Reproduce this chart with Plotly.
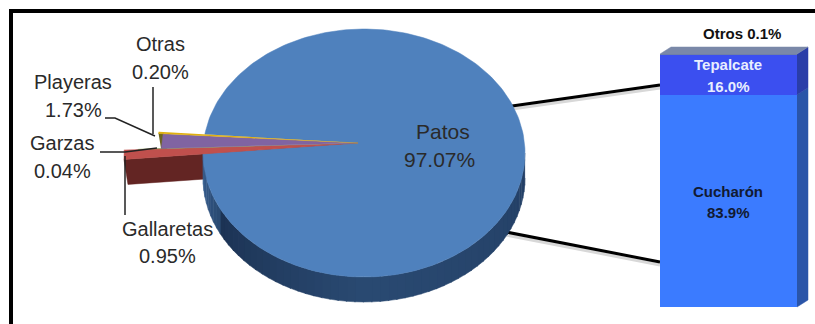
import numpy as np
import plotly.graph_objects as go

W, H = 815, 324
# data
pie_labels = ["Patos", "Gallaretas", "Garzas", "Playeras", "Otras"]
pie_values = [97.07, 0.95, 0.04, 1.73, 0.20]
pie_text = ["97.07%", "0.95%", "0.04%", "1.73%", "0.20%"]
bar_labels = ["Cucharón", "Tepalcate", "Otros"]
bar_values = [83.9, 16.0, 0.1]
bar_text = ["83.9%", "16.0%", "0.1%"]

# style
CX, CY, RX, RY = 364, 153, 161, 124
AX, AY = 358, 143
DEPTH = 25
GAP_START = 179.6      # rim angle (deg) where the small slices begin
GAP_COMPRESS = 0.86
slice_colors = {"Gallaretas": "#C0504D", "Garzas": "#8A9A50", "Playeras": "#8064A2", "Otras": "#E0B010"}
slice_pull = {"Gallaretas": 1.51, "Garzas": 1.42, "Playeras": 1.27, "Otras": 1.3}


def rim(theta):
    t = np.radians(theta)
    return CX + RX * np.cos(t), CY + RY * np.sin(t)


def fill(xs, ys, color, line=None):
    return go.Scatter(x=list(xs), y=list(ys), mode="lines", fill="toself", fillcolor=color,
                      line=dict(color=line or color, width=0.5), hoverinfo="skip", showlegend=False)


def seg(xs, ys, color="#000000", width=1.5):
    return go.Scatter(x=xs, y=ys, mode="lines", line=dict(color=color, width=width),
                      hoverinfo="skip", showlegend=False)


traces = []
total = sum(pie_values)
small = pie_values[1:]
spans = [v / total * 360 * GAP_COMPRESS for v in small]
gap_end = GAP_START + sum(spans)
edges = np.concatenate([[GAP_START], GAP_START + np.cumsum(spans)])


def outer(theta, k):
    x, y = rim(theta)
    return AX + k * (x - AX), AY + k * (y - AY)


# connectors (shadow + line)
for x, y in (([512, 660], [106, 85]), ([506, 660], [232, 262])):
    traces.append(seg(x, [v + 3 for v in y], "#d8d8d8", 3))
    traces.append(seg(x, y, "#000000", 3))

# exploded slice sides
gx, gy = outer(edges[0], slice_pull["Gallaretas"])
traces.append(fill([AX, gx, gx + 4, AX + 4], [AY, gy, gy + DEPTH, AY + DEPTH], "#632523"))
px, py = outer(edges[3], slice_pull["Otras"])
px2, py2 = outer(edges[2], slice_pull["Playeras"])
traces.append(fill([px, px + 5, px2 + 6, px2], [py, py, py2 + 2, py2 + 2], "#6B6420"))

# main pie side with shading
th = np.linspace(0, 180, 61)
shade_l, shade_r = np.array([0x1C, 0x33, 0x54]), np.array([0x24, 0x40, 0x66])
mid = np.array([0x2A, 0x4A, 0x72])
for a, b in zip(th[:-1], th[1:]):
    u = (a + b) / 360
    if u > 0.85:
        c = np.array([0x3A, 0x62, 0x94]) + (mid - np.array([0x3A, 0x62, 0x94])) * ((1 - u) / 0.15)
    elif u < 0.5:
        c = shade_r + (mid - shade_r) * (u / 0.5)
    else:
        c = mid + (shade_l - mid) * ((u - 0.5) / 0.35)
    xa, ya = rim(a)
    xb, yb = rim(b + 0.4)
    col = "#%02x%02x%02x" % tuple(int(v) for v in c)
    traces.append(fill([xa, xb, xb, xa], [ya, yb, yb + DEPTH, ya + DEPTH], col))

# main pie top
t_main = np.linspace(gap_end, GAP_START + 360, 240)
mx, my = rim(t_main)
traces.append(fill(np.r_[AX, mx], np.r_[AY, my], "#4F81BD"))

# slice tops
for name, a, b in zip(pie_labels[1:], edges[:-1], edges[1:]):
    k = slice_pull[name]
    x1, y1 = outer(a, k)
    x2, y2 = outer(b, k)
    traces.append(fill([AX, x1, x2], [AY, y1, y2], slice_colors[name]))

# leader lines
traces.append(seg([153, 153], [87, 134], "#222222", 1.5))
traces.append(seg([105, 115, 155], [118, 118, 136], "#222222", 1.5))
traces.append(seg([100, 125, 157], [152, 152, 148], "#222222", 1.5))
traces.append(seg([125, 125], [156, 215], "#222222", 1.5))

# stacked bar (true scale on its own axes)
BL, BR, BT, BB = 660, 797, 54, 307
for name, v, c in zip(bar_labels, bar_values, ["#3B7BFF", "#3B4FF0", "#6F7FA8"]):
    traces.append(go.Bar(x=[0], y=[v], name=name, width=[1], marker=dict(color=c, line=dict(width=0)),
                         xaxis="x2", yaxis="y2", hoverinfo="skip", showlegend=False))


def y_of(p):
    return BB - (BB - BT) * p / sum(bar_values)


SX, SY = 11, -7
sum0 = bar_values[0]
traces.append(fill([BR, BR + SX, BR + SX, BR], [y_of(0), y_of(0) + SY, y_of(sum0) + SY, y_of(sum0)], "#2A55A8"))
traces.append(fill([BR, BR + SX, BR + SX, BR], [y_of(sum0), y_of(sum0) + SY, y_of(100) + SY, y_of(100)], "#2A3DA8"))
traces.append(fill([BL, BL + SX, BR + SX, BR], [y_of(100), y_of(100) + SY, y_of(100) + SY, y_of(100)], "#7A88A8"))

fig = go.Figure(traces)

FONT = "Liberation Sans"


def label(x, y, text, size=20, color="#2a2a2a", bold=False):
    return dict(x=x, y=y, xref="x", yref="y", text=f"<b>{text}</b>" if bold else text, showarrow=False,
                font=dict(family=FONT, size=size, color=color), xanchor="center", yanchor="middle")


ann = [
    label(443, 131, pie_labels[0], 21), label(439, 159, pie_text[0], 21),
    label(160, 44, pie_labels[4]), label(160, 72, pie_text[4]),
    label(73, 82, pie_labels[3]), label(73, 110, pie_text[3]),
    label(62, 143, pie_labels[2]), label(62, 171, pie_text[2]),
    label(167, 229, pie_labels[1]), label(167, 256, pie_text[1]),
    label(742, 33, f"{bar_labels[2]} {bar_text[2]}", 15, "#111111", True),
    label(728, 64, bar_labels[1], 15, "#E8EEFF", True), label(728, 86, bar_text[1], 15, "#E8EEFF", True),
    label(728, 191, bar_labels[0], 15, "#111A33", True), label(728, 212, bar_text[0], 15, "#111A33", True),
]

fig.update_layout(
    width=W, height=H, margin=dict(l=0, r=0, t=0, b=0), paper_bgcolor="#ffffff", plot_bgcolor="rgba(0,0,0,0)",
    barmode="stack", bargap=0, showlegend=False, annotations=ann,
    xaxis=dict(range=[0, W], visible=False, fixedrange=True, domain=[0, 1]),
    yaxis=dict(range=[H, 0], visible=False, fixedrange=True, domain=[0, 1]),
    xaxis2=dict(range=[-0.5, 0.5], visible=False, fixedrange=True, domain=[BL / W, BR / W], anchor="y2"),
    yaxis2=dict(range=[0, sum(bar_values)], visible=False, fixedrange=True,
                domain=[(H - BB) / H, (H - BT) / H], anchor="x2"),
    shapes=[
        dict(type="line", xref="x", yref="y", x0=9, x1=W, y0=11, y1=11, line=dict(color="#000", width=4)),
        dict(type="line", xref="x", yref="y", x0=11, x1=11, y0=9, y1=H, line=dict(color="#000", width=4)),
    ],
)
fig.write_html("out.html", config=dict(displayModeBar=False),
               post_script="document.body.style.margin='0';document.documentElement.style.overflow='hidden';")
